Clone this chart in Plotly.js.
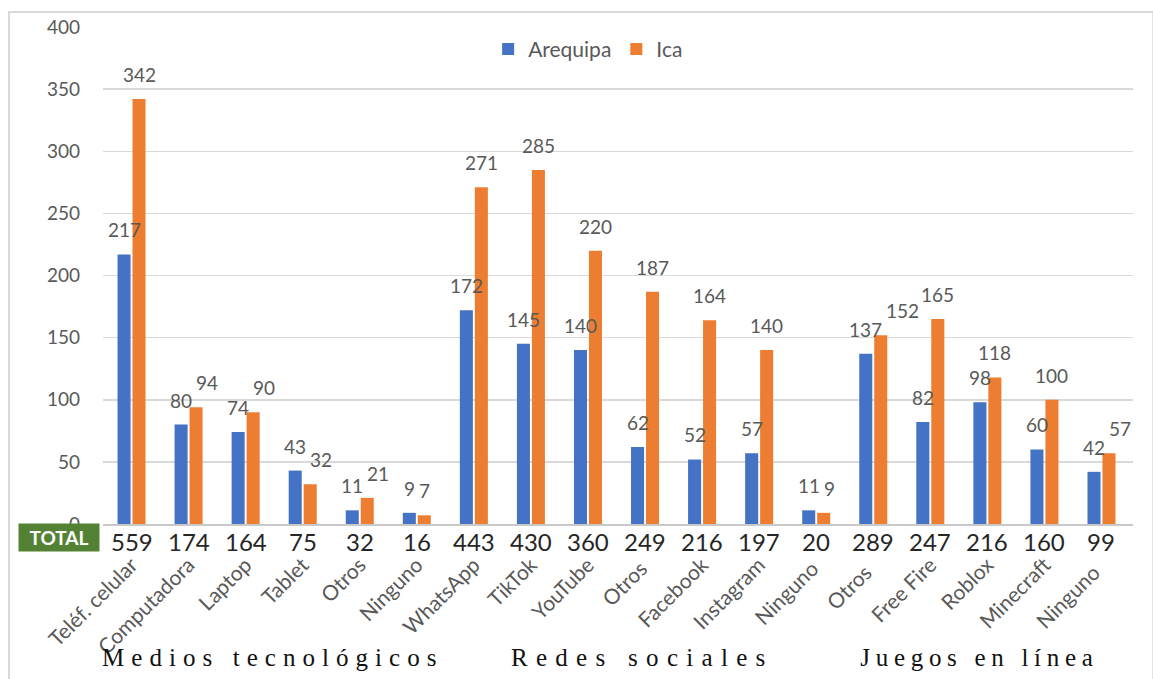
<!DOCTYPE html>
<html><head><meta charset="utf-8">
<script src="https://cdn.plot.ly/plotly-3.0.1.min.js"></script>
<style>html,body{margin:0;padding:0;background:#fff}#chart{width:1153px;height:679px}</style>
</head><body><div id="chart"></div>
<script>
const categories = ["Teléf. celular","Computadora","Laptop","Tablet","Otros","Ninguno","WhatsApp","TikTok","YouTube","Otros ","Facebook","Instagram","Ninguno ","Otros  ","Free Fire","Roblox","Minecraft","Ninguno  "];
const arequipa = [217,80,74,43,11,9,172,145,140,62,52,57,11,137,82,98,60,42];
const ica = [342,94,90,32,21,7,271,285,220,187,164,140,9,152,165,118,100,57];
const totals = [559,174,164,75,32,16,443,430,360,249,216,197,20,289,247,216,160,99];
const groups = ["Medios tecnológicos","Redes sociales","Juegos en línea"];
const groupCenters = [2.42, 8.87, 14.82];
const groupSpacing = [7.05, 8.3, 5.7];   // letter-spacing (px) of each group title
const yTicks = [0,50,100,150,200,250,300,350,400];

const FONT = "Lato, 'Liberation Sans', sans-serif";
const SERIF = "'Liberation Serif', 'DejaVu Serif', serif";
const GRAY = "#595959";
const BARGAP = 0.475, GROUPGAP = 0.13;

const traces = [
  {type:"bar", name:"Arequipa", x:categories, y:arequipa, marker:{color:"#4472C4"}},
  {type:"bar", name:"Ica", x:categories, y:ica, marker:{color:"#ED7D31"}}
];

// plot geometry used only to decide label collisions
const PLOT_W = 1153 - 103 - 20, PLOT_H = 679 - 27 - 155;
const pxPerCat = PLOT_W / categories.length, pxPerUnit = PLOT_H / 400;
const slot = (1 - BARGAP) / 2;
const LBL = 19, DIGIT = LBL * 0.58;

const annotations = [];
categories.forEach((c,i)=>{
  const a = arequipa[i], b = ica[i];
  let shift = 0;
  if (Math.abs(a - b) * pxPerUnit < LBL + 2) {
    const need = (String(a).length + String(b).length) * DIGIT / 2 + 4 - slot * pxPerCat;
    shift = Math.max(0, need);
  }
  annotations.push({x:i - slot/2, y:a, xref:"x", yref:"y", yanchor:"bottom", yshift:11,
    text:String(a), showarrow:false, font:{family:FONT,size:LBL,color:GRAY}});
  annotations.push({x:i + slot/2, y:b, xref:"x", yref:"y", yanchor:"bottom", yshift:11, xshift:shift,
    text:String(b), showarrow:false, font:{family:FONT,size:LBL,color:GRAY}});
  annotations.push({x:i, y:0, xref:"x", yref:"y", yanchor:"top", yshift:-1,
    text:String(totals[i]), showarrow:false, font:{family:FONT,size:24,color:"#262626"}});
});
groups.forEach((g,i)=>{
  annotations.push({x:groupCenters[i], y:-0.268, xref:"x", yref:"paper", yanchor:"middle", xanchor:"center",
    xshift:groupSpacing[i]/2, text:g, showarrow:false, font:{family:SERIF,size:25,color:"#111"}});
});
annotations.push({x:-0.0427, y:0, xref:"paper", yref:"y", xanchor:"center", yanchor:"top", yshift:1,
  text:"<b>TOTAL</b>", showarrow:false, bgcolor:"#548235", width:78, height:25,
  font:{family:FONT,size:19,color:"#fff"}});

const layout = {
  width:1153, height:679,
  margin:{l:103, r:20, t:27, b:155},
  paper_bgcolor:"#fff", plot_bgcolor:"#fff",
  barmode:"group", bargap:BARGAP, bargroupgap:GROUPGAP,
  showlegend:true,
  legend:{orientation:"h", x:0.471, xanchor:"center", y:0.955, yanchor:"middle",
    font:{family:FONT,size:21,color:GRAY}, itemwidth:30},
  xaxis:{type:"category", tickangle:-45, ticklabelstandoff:19,
    tickfont:{family:FONT,size:21,color:GRAY}, showgrid:false, zeroline:false,
    showline:true, linecolor:"#c8c8c8", linewidth:1.5, ticks:""},
  yaxis:{range:[0,400], tickvals:yTicks, ticktext:yTicks.map(String), gridcolor:"#d9d9d9", gridwidth:1.5,
    zeroline:false, showline:false, ticks:"", ticklabelstandoff:22,
    tickfont:{family:FONT,size:19,color:GRAY}},
  annotations:annotations,
  shapes:[{type:"rect", xref:"paper", yref:"paper", x0:-0.0913, x1:1.0197, y0:-0.4, y1:1.0302,
    line:{color:"#d9d9d9", width:2}, fillcolor:"rgba(0,0,0,0)", layer:"below"}]
};
Plotly.newPlot("chart", traces, layout, {displayModeBar:false, staticPlot:true}).then(gd=>{
  gd.querySelectorAll("text.annotation-text").forEach(t=>{
    const k = groups.indexOf(t.textContent);
    if (k >= 0) t.style.letterSpacing = groupSpacing[k] + "px";
  });
});
</script></body></html>
